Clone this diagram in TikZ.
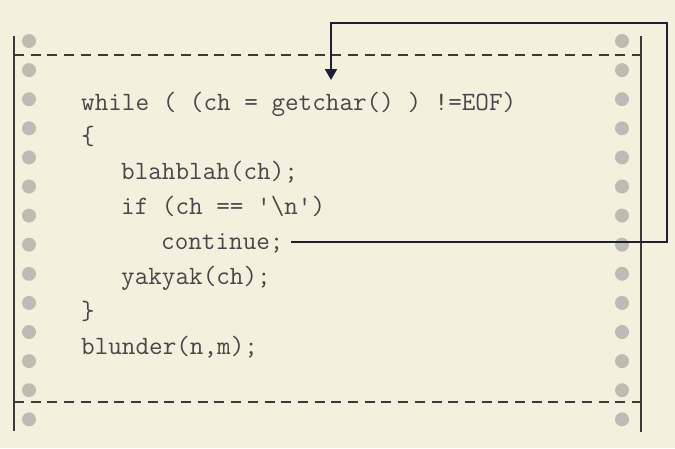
\documentclass[tikz,border=0pt]{standalone}
\usepackage{fontspec}
\usetikzlibrary{arrows.meta,calc}
\definecolor{bg}{HTML}{F3F1DE}
\definecolor{ink}{HTML}{3A3A3A}
\definecolor{txt}{HTML}{474747}
\definecolor{dotc}{HTML}{BDBCB4}
\definecolor{navy}{HTML}{1E1E34}
\tikzset{
  codeline/.style={anchor=base west, inner sep=0pt, font=\ttfamily\fontsize{26.4}{26}\selectfont, text=txt},
  sprocket/.style={circle, fill=dotc, minimum size=14pt, inner sep=0pt},
  rail/.style={ink, line width=2.2pt},
  tearline/.style={ink, line width=2.6pt, dash pattern=on 10pt off 6.7pt},
  flow/.style={navy, line width=2pt, -{Triangle[width=12pt,length=11pt]}}
}
\begin{document}
\begin{tikzpicture}[x=1pt,y=-1pt]
\fill[bg] (0,0) rectangle (675,448);
\useasboundingbox (0,0) rectangle (675,448);
% sprocket holes
\foreach \i in {0,...,13}{
  \node[sprocket] (L\i) at (29,41+29.1*\i) {};
  \node[sprocket] (R\i) at (622,41+29.1*\i) {};
}
% rails and tear lines
\coordinate (railLt) at (14,36);
\coordinate (railLb) at (14,431);
\coordinate (railRt) at (641,36);
\coordinate (railRb) at (641,432);
\draw[rail] (railLt) -- (railLb);
\draw[rail] (railRt) -- (railRb);
\draw[tearline] (railLt |- 0,55) -- (railRt |- 0,55);
\draw[tearline] (railLt |- 0,402) -- (railRt |- 0,402);
% code
\node[codeline] (while) at (81,110) {while ( (ch = getchar() ) !=EOF)};
\node[codeline] (open) at (81,144.9) {\{};
\node[codeline] (blah) at (121,179.7) {blahblah(ch);};
\node[codeline] (if) at (121,214.6) {if (ch == '\textbackslash n')};
\node[codeline] (cont) at (161,249.4) {continue;};
\node[codeline] (yak) at (121,284.3) {yakyak(ch);};
\node[codeline] (close) at (81,319.1) {\}};
\node[codeline] (blund) at (81,354) {blunder(n,m);};
% loop-back connector
\coordinate (cstart) at ($(cont.base east)+(7,-7.7)$);
\coordinate (loopR) at (667,22.7);
\coordinate (tip) at (331,80);
\draw[flow] (cstart) -- (cstart -| loopR) -- (loopR) -- (loopR -| tip) -- (tip);
\end{tikzpicture}
\end{document}
